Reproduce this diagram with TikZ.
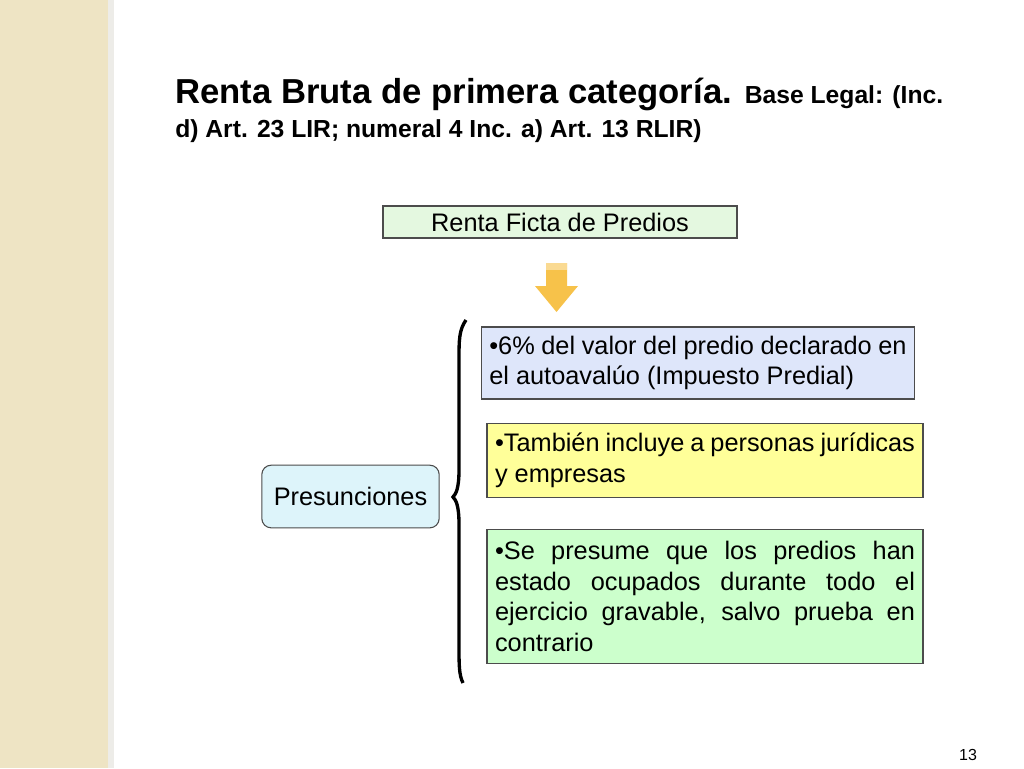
\documentclass[tikz,border=0pt]{standalone}
\usepackage{fontspec}
\setmainfont{Liberation Sans}
\definecolor{strip}{HTML}{EEE4C4}
\definecolor{fictafill}{HTML}{E4F8E0}
\definecolor{presfill}{HTML}{DDF4FA}
\definecolor{bluefill}{HTML}{DEE6FA}
\definecolor{yellowfill}{HTML}{FFFF99}
\definecolor{greenfill}{HTML}{CCFFCC}
\definecolor{arrowfill}{HTML}{F7C24A}
\tikzset{
  boxnode/.style={draw=black!70, line width=0.8pt, inner sep=0pt, font=\fontsize{19}{23}\selectfont},
  itembox/.style={boxnode, inner xsep=6pt, text width=#1, align=justify,
    execute at begin node={\hyphenpenalty=10000\exhyphenpenalty=10000\tolerance=9999}}
}
\begin{document}
\begin{tikzpicture}[x=0.75pt, y=-0.75pt]
\useasboundingbox (0,0) rectangle (1024,768);
\fill[white] (0,0) rectangle (1024,768);
\fill[strip] (0,0) rectangle (112,768);
\fill[strip!70!black!20] (108,0) rectangle (114,768);
% title
\node[anchor=base west, inner sep=0pt, font=\bfseries\fontsize{26}{30}\selectfont] (title) at (175,103)
  {Renta Bruta de primera categoría. {\fontsize{18.5}{22}\selectfont Base Legal: (Inc.}};
\node[anchor=base west, inner sep=0pt, font=\bfseries\fontsize{18.5}{22}\selectfont] (title2) at (175,137)
  {d) Art. 23 LIR; numeral 4 Inc. a) Art. 13 RLIR)};
% boxes
\node[boxnode, fill=fictafill, minimum width=265.5pt, minimum height=24pt] (ficta) at (560,222) {Renta Ficta de Predios};
\node[boxnode, fill=presfill, rounded corners=7pt, minimum width=133pt, minimum height=47pt] (pres) at (350.5,496.5) {Presunciones};
\node[itembox=313pt, fill=bluefill, minimum height=54pt] (valor) at (698,363)
  {•6\% del valor del predio declarado en el autoavalúo (Impuesto Predial)};
\node[itembox=315pt, fill=yellowfill, minimum height=55pt] (juridicas) at (705,460.5)
  {•También incluye a personas jurídicas y empresas};
\node[itembox=315pt, fill=greenfill, minimum height=101pt] (ocupados) at (705,596.5)
  {•Se presume que los predios han estado ocupados durante todo el ejercicio gravable, salvo prueba en contrario};
% block arrow
\fill[arrowfill] (546,263) -- (567,263) -- (567,286) -- (578,286) -- (556.5,312) -- (535,286) -- (546,286) -- cycle;
\fill[arrowfill!60!white] (546,263) rectangle (567,270);
% brace
\draw[line width=2.5pt] (466,320) .. controls (459,330) and (459,340) .. (459,360) -- (459,470)
  .. controls (459,488) and (456,494) .. (453,497)
  .. controls (456,500) and (459,506) .. (459,524) -- (459,645)
  .. controls (459,665) and (459,675) .. (463,683);
\node[font=\fontsize{12}{14}\selectfont] (page) at (968,755) {13};
\end{tikzpicture}
\end{document}
